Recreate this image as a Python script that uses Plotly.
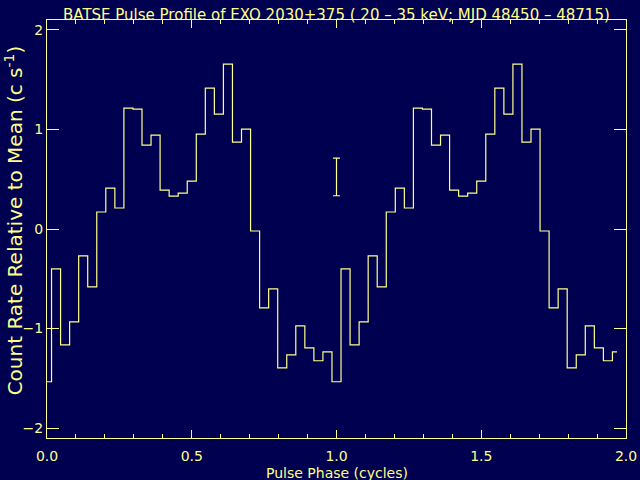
import plotly.graph_objects as go

# One cycle of the pulse profile (32 phase bins), plotted twice
profile = [-1.535, -0.401, -1.164, -0.933, -0.271, -0.582, 0.171, 0.411,
           0.211, 1.214, 1.204, 0.843, 0.943, 0.391, 0.331, 0.361,
           0.482, 0.953, 1.415, 1.154, 1.656, 0.873, 1.003, -0.020,
           -0.793, -0.602, -1.395, -1.264, -0.973, -1.194, -1.324, -1.234]
nbins = len(profile)
phase = [i / nbins for i in range(2 * nbins)]
rate = profile + profile

err_x = [1.0]
err_y = [0.523]
err_half = [0.189]

title_text = "BATSE Pulse Profile of EXO 2030+375 ( 20 \u2013 35 keV; MJD 48450 \u2013 48715)"
xtitle = "Pulse Phase (cycles)"
ytitle = "Count Rate Relative to Mean (c s<sup>-1</sup>)"

BG = "#000050"
FG = "#ffff8c"
FONT = "DejaVu Sans"

fig = go.Figure()
fig.add_trace(go.Scatter(x=phase, y=rate, mode="lines", line_shape="hvh",
                         line=dict(color=FG, width=1.2), showlegend=False,
                         hoverinfo="skip"))
fig.add_trace(go.Scatter(x=err_x, y=err_y, mode="markers",
                         marker=dict(size=1, color=FG, opacity=0),
                         error_y=dict(type="data", array=err_half, visible=True,
                                      color=FG, thickness=1.2, width=3.5),
                         showlegend=False, hoverinfo="skip"))

axis_common = dict(showgrid=False, zeroline=False, showline=True, linecolor=FG,
                   linewidth=1, mirror="ticks", ticks="inside", tickcolor=FG,
                   automargin=False,
                   tickfont=dict(family=FONT, size=14, color=FG))

fig.update_xaxes(range=[0, 2], tickvals=[0, 0.5, 1.0, 1.5, 2.0],
                 ticktext=["0.0", "0.5", "1.0", "1.5", "2.0"], ticklen=8,
                 ticklabelstandoff=5,
                 minor=dict(ticks="inside", dtick=0.1, ticklen=4, tickcolor=FG),
                 **axis_common)
fig.update_yaxes(range=[-2.1, 2.1], tickvals=[-2, -1, 0, 1, 2], ticklen=12,
                 **axis_common)

fig.update_layout(
    width=640, height=480,
    paper_bgcolor=BG, plot_bgcolor=BG,
    margin=dict(l=47, r=14, t=20, b=42, autoexpand=False),
    annotations=[
        dict(text=title_text, xref="paper", yref="paper", x=0.5, y=1.012,
             xanchor="center", yanchor="middle", showarrow=False,
             font=dict(family=FONT, size=15, color=FG)),
        dict(text=xtitle, xref="paper", yref="paper", x=0.5, y=-0.083,
             xanchor="center", yanchor="middle", showarrow=False,
             font=dict(family=FONT, size=14, color=FG)),
        dict(text=ytitle, xref="paper", yref="paper", x=-0.0575, y=0.52,
             xanchor="center", yanchor="middle", showarrow=False, textangle=-90,
             font=dict(family=FONT, size=20, color=FG)),
    ],
)

fig.write_html(
    "out.html",
    config={"displayModeBar": False},
    post_script="document.body.style.margin='0';"
                "document.body.style.background='#000050';",
)
